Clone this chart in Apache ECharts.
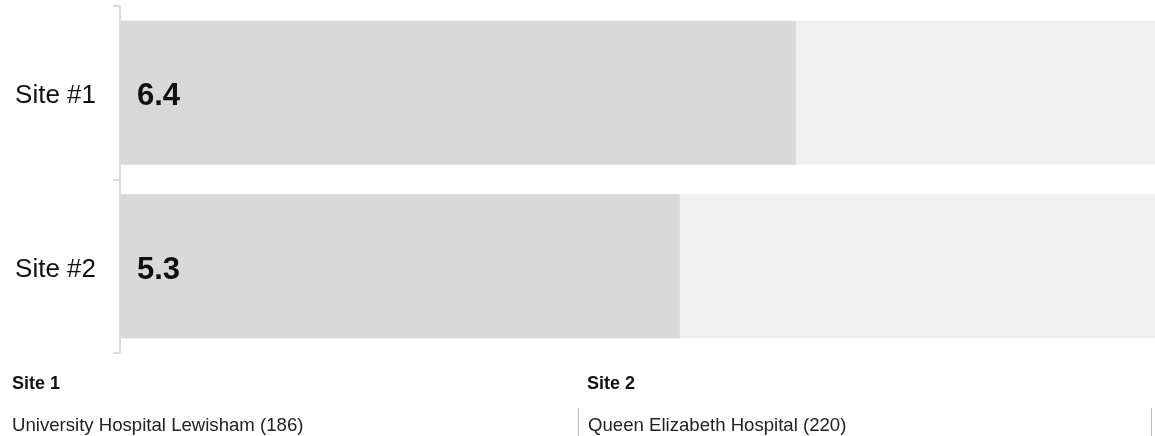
<!DOCTYPE html>
<html>
<head>
<meta charset="utf-8">
<script src="https://cdn.jsdelivr.net/npm/echarts@6/dist/echarts.min.js"></script>
<style>
html,body{margin:0;padding:0;background:#fff;}
#chart{width:1155px;height:436px;}
</style>
</head>
<body>
<div id="chart"></div>
<script>
const categories = ['Site #1', 'Site #2'];
const values = [6.4, 5.3];
const axisMax = 9.8;
const siteHeadings = ['Site 1', 'Site 2'];
const siteHospitals = ['University Hospital Lewisham (186)', 'Queen Elizabeth Hospital (220)'];

const FONT = '"Liberation Sans", Arial, Helvetica, sans-serif';
const chart = echarts.init(document.getElementById('chart'), null, {renderer: 'canvas'});

const option = {
  animation: false,
  backgroundColor: '#ffffff',
  grid: {left: 120, top: 6, height: 347, right: 0, containLabel: false},
  xAxis: {
    type: 'value', min: 0, max: axisMax, show: false
  },
  yAxis: {
    type: 'category',
    data: categories,
    inverse: true,
    axisLine: {show: true, lineStyle: {color: '#dcdcdc', width: 2}},
    axisTick: {show: true, length: 7, lineStyle: {color: '#dcdcdc', width: 2}},
    axisLabel: {
      margin: 24,
      formatter: v => '{a|' + v + '}',
      rich: {a: {color: '#111', fontSize: 26, fontFamily: FONT, padding: [7, 0, 0, 0]}}
    }
  },
  series: [{
    type: 'bar',
    data: values,
    barWidth: 144,
    z: 1,
    itemStyle: {color: '#d9d9d9'},
    showBackground: true,
    backgroundStyle: {color: '#f0f0f0'},
    label: {
      show: true, position: 'insideLeft', distance: 17, offset: [0, 4],
      color: '#111', fontSize: 31, fontWeight: 'bold', fontFamily: FONT,
      formatter: p => p.value.toFixed(1)
    }
  }],
  graphic: [
    {type: 'text', left: 12, top: 375, style: {text: siteHeadings[0], font: 'bold 18px ' + FONT, fill: '#111'}},
    {type: 'text', left: 587, top: 375, style: {text: siteHeadings[1], font: 'bold 18px ' + FONT, fill: '#111'}},
    {type: 'text', left: 12, top: 416, style: {text: siteHospitals[0], font: '18.6px ' + FONT, fill: '#222'}},
    {type: 'text', left: 588, top: 416, style: {text: siteHospitals[1], font: '18.6px ' + FONT, fill: '#222'}},
    {type: 'rect', shape: {x: 578, y: 408, width: 1, height: 28}, style: {fill: '#bdbdbd'}},
    {type: 'rect', shape: {x: 1151, y: 408, width: 1, height: 28}, style: {fill: '#bdbdbd'}}
  ]
};
chart.setOption(option);
</script>
</body>
</html>
